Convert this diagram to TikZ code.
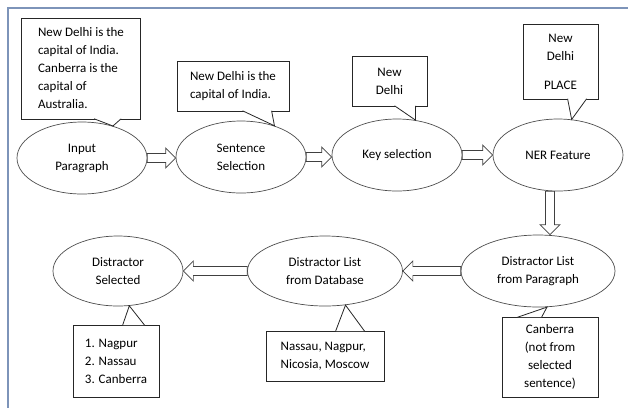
\documentclass[tikz,border=0pt]{standalone}
\usepackage{fontspec}
\setmainfont{Carlito}
\usepackage{tikz}
\usetikzlibrary{calc,positioning,shapes.geometric}
\definecolor{framecol}{RGB}{125,148,185}

\begin{document}
\begin{tikzpicture}[x=1pt, y=-1pt, node distance=159pt,
  font=\fontsize{13}{18}\selectfont,
  stage/.style={ellipse, draw=black!70, line width=0.7pt, minimum width=130pt,
    minimum height=72pt, inner sep=0pt, align=center},
  note/.style={rectangle, draw=black!85, line width=0.8pt, inner sep=0pt, fill=white},
  calloutptr/.style={draw=black!85, line width=0.8pt, fill=white},
  flow/.style={draw=black!75, line width=0.7pt, fill=white,
    to path={let \p1=(\tikztostart), \p2=(\tikztotarget),
      \n1={atan2(\y2-\y1,\x2-\x1)} in
      ($(\p1)+(\n1+90:4.5pt)$) -- ($(\p2)+(\n1:-10pt)+(\n1+90:4.5pt)$)
      -- ($(\p2)+(\n1:-10pt)+(\n1+90:10pt)$) -- (\p2)
      -- ($(\p2)+(\n1:-10pt)+(\n1-90:10pt)$) -- ($(\p2)+(\n1:-10pt)+(\n1-90:4.5pt)$)
      -- ($(\p1)+(\n1-90:4.5pt)$) -- cycle}}]
  \useasboundingbox (0,0) rectangle (628,408);
  \draw[framecol, line width=1.5pt] (628,8) -- (8,8) -- (8,408);

  % main steps
  \node[stage] (Input) at (82,158) {Input\\Paragraph};
  \node[stage, node distance=159pt, right of=Input, yshift=1pt] (Sent) {Sentence\\Selection};
  \node[stage, node distance=156pt, right of=Sent, yshift=2pt] (Key) {Key selection};
  \node[stage, node distance=161pt, right of=Key] (NER) {NER Feature};
  \node[stage, minimum width=154pt, node distance=116pt, below of=NER, xshift=-20pt] (Para) {Distractor List\\from Paragraph};
  \node[stage, minimum width=155pt, minimum height=70pt, node distance=213pt, left of=Para] (Base) {Distractor List\\from Database};
  \node[stage, minimum height=70pt, node distance=207pt, left of=Base] (Sel) {Distractor\\Selected};

  % callouts
  \node[note, minimum width=119pt, minimum height=101pt, align=left] (InNote) at (81,68.5)
    {New Delhi is the\\capital of India.\\Canberra is the\\capital of\\Australia.};
  \node[note, minimum width=112pt, minimum height=50pt, align=left] (SentNote) at (233,86)
    {New Delhi is the\\capital of India.};
  \node[note, minimum width=75pt, minimum height=50pt, align=center] (KeyNote) at (389.5,81) {New\\Delhi};
  \node[note, minimum width=75pt, minimum height=75pt, align=center] (NERNote) at (560.5,61.5) {New\\Delhi\\[11pt]PLACE};
  \node[note, minimum width=96pt, minimum height=80pt, align=center] (ParaNote) at (550,357)
    {Canberra\\(not from\\selected\\sentence)};
  \node[note, minimum width=118pt, minimum height=50pt, align=left] (BaseNote) at (325,356)
    {Nassau, Nagpur,\\Nicosia, Moscow};
  \node[note, minimum width=86pt, minimum height=72pt, align=left] (SelNote) at (116,361)
    {1. Nagpur\\2. Nassau\\3. Canberra};

  \draw[calloutptr] ([xshift=73pt,yshift=0.6pt]InNote.south west) -- (Input.46) -- ([xshift=100pt,yshift=0.6pt]InNote.south west);
  \draw[calloutptr] ([xshift=66pt,yshift=0.6pt]SentNote.south west) -- (Sent.43) -- ([xshift=95pt,yshift=0.6pt]SentNote.south west);
  \draw[calloutptr] ([xshift=43pt,yshift=0.6pt]KeyNote.south west) -- (Key.62) -- ([xshift=64pt,yshift=0.6pt]KeyNote.south west);
  \draw[calloutptr] ([xshift=45pt,yshift=0.6pt]NERNote.south west) -- (NER.69) -- ([xshift=64pt,yshift=0.6pt]NERNote.south west);
  \draw[calloutptr] ([xshift=16pt,yshift=-0.6pt]ParaNote.north west) -- (Para.-76) -- ([xshift=40pt,yshift=-0.6pt]ParaNote.north west);
  \draw[calloutptr] ([xshift=70pt,yshift=-0.6pt]BaseNote.north west) -- (Base.-59) -- ([xshift=99pt,yshift=-0.6pt]BaseNote.north west);
  \draw[calloutptr] ([xshift=50pt,yshift=-0.6pt]SelNote.north west) -- (Sel.-72) -- ([xshift=72pt,yshift=-0.6pt]SelNote.north west);

  % block arrows
  \draw[flow] (Input.east) to (Input.east -| Sent.west);
  \draw[flow] (Sent.east) to (Sent.east -| Key.west);
  \draw[flow] (Key.east) to (Key.east -| NER.west);
  \coordinate (drop) at ([xshift=-8pt]NER.south);
  \draw[flow] (drop) to (drop |- Para.north);
  \draw[flow] (Para.west) to (Para.west -| Base.east);
  \draw[flow] (Base.west) to (Base.west -| Sel.east);
\end{tikzpicture}
\end{document}
